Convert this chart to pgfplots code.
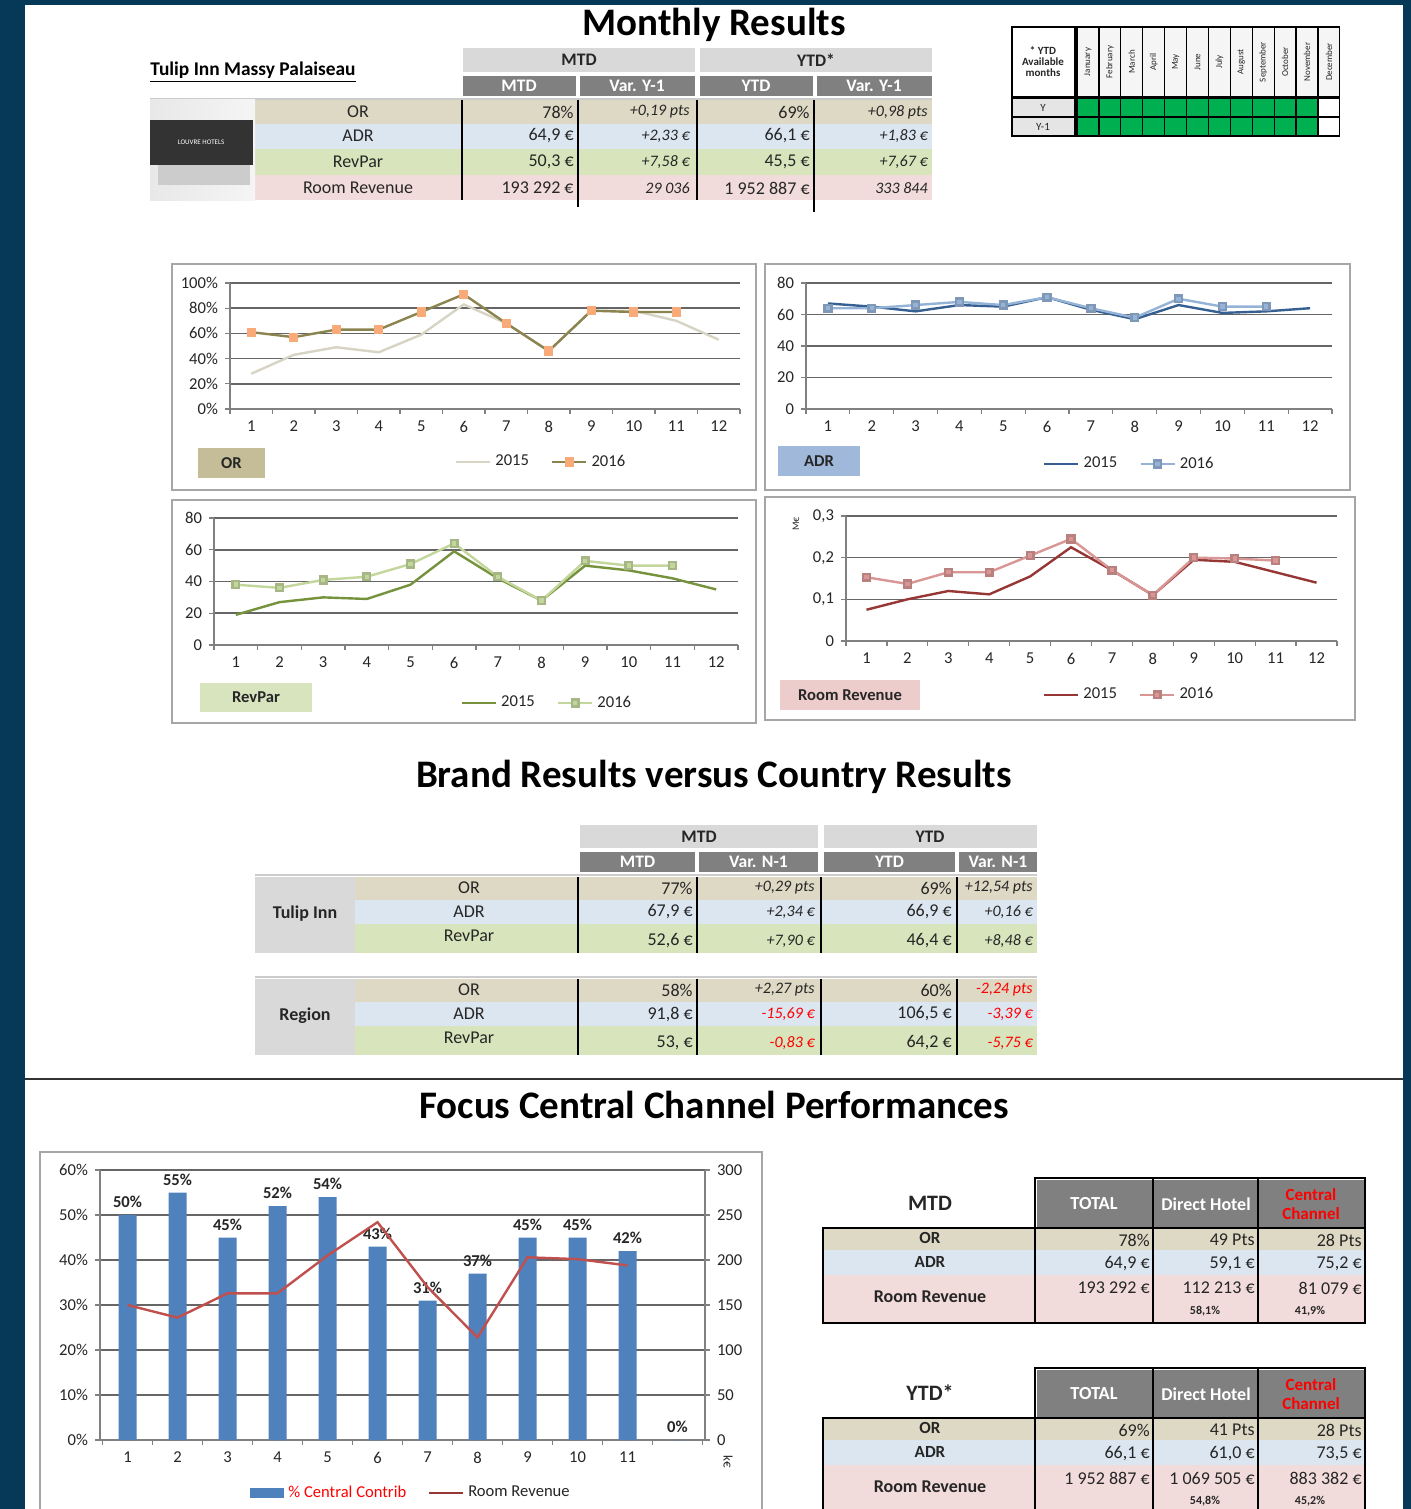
\documentclass[border=0pt]{standalone}
\usepackage{fontspec}
\setmainfont{Carlito}
\usepackage{pgfplots}
\pgfplotsset{compat=1.18}
\newcommand{\fs}[1]{\fontsize{#1}{#1}\selectfont}
\definecolor{navy}{RGB}{5,57,87}
\definecolor{hdrlight}{RGB}{217,217,217}
\definecolor{hdrdark}{RGB}{128,128,128}
\definecolor{rowOR}{RGB}{221,217,196}
\definecolor{rowADR}{RGB}{220,230,241}
\definecolor{rowRP}{RGB}{216,228,188}
\definecolor{rowRR}{RGB}{242,220,219}
\definecolor{lblOR}{RGB}{196,189,151}
\definecolor{lblADR}{RGB}{160,185,218}
\definecolor{lblRP}{RGB}{215,228,189}
\definecolor{lblRR}{RGB}{236,205,204}
\definecolor{cellgreen}{RGB}{0,176,80}
\definecolor{barblue}{RGB}{79,129,189}
\definecolor{redline}{RGB}{192,80,77}
\definecolor{orA}{RGB}{216,212,195}
\definecolor{orB}{RGB}{140,132,80}
\definecolor{orM}{RGB}{248,170,120}
\definecolor{adrA}{RGB}{55,96,146}
\definecolor{adrB}{RGB}{149,179,215}
\definecolor{rpA}{RGB}{118,146,60}
\definecolor{rpB}{RGB}{195,214,155}
\definecolor{rrA}{RGB}{150,55,53}
\definecolor{rrB}{RGB}{217,150,148}
\definecolor{txt}{RGB}{38,38,38}
% value rows
\newcommand{\vr}[3]{\node[font=\fs{9}, text=txt, anchor=east, inner sep=0pt] at (#1,#2) {#3};}
\newcommand{\vi}[4][txt]{\node[font=\itshape\fs{8}, text=#1, anchor=east, inner sep=0pt] at (#2,#3) {#4};}
\newcommand{\toprow}[5]{\vr{574}{#1}{#2}\vi{690}{#1}{#3}\vr{810}{#1}{#4}\vi{928}{#1}{#5}}
\newcommand{\brandrow}[5]{\vr{693}{#1}{#2}\vi{815}{#1}{#3}\vr{952}{#1}{#4}\vi{1033}{#1}{#5}}
\newcommand{\chrow}[4]{\vr{1150}{#1}{#2}\vr{1255}{#1}{#3}\vr{1362}{#1}{#4}}
\pgfplotsset{
 mini/.style={
  scale only axis, anchor=south west,
  xmin=0.5, xmax=12.5,
  xtick={1,...,12},
  minor xtick={0.5,1.5,...,12.5},
  axis x line*=bottom, axis y line*=left,
  axis line style={-, draw=gray, line width=0.8pt},
  major x tick style={draw=none},
  minor x tick style={draw=gray, line width=0.6pt},
  ytick style={draw=gray, line width=0.6pt},
  tick align=outside,
  major tick length=2.5pt, minor tick length=2.5pt,
  ymajorgrids, grid style={black!60, line width=0.8pt},
  tick label style={font=\fs{8.3}, text=txt},
  /pgf/number format/assume math mode=true,
  /pgf/number format/use comma,
  legend columns=2,
  legend style={draw=none, fill=none, font=\fs{8.3}, text=txt, anchor=west, inner sep=0pt,
   /tikz/every even column/.append style={column sep=9pt}},
  legend cell align=left,
  clip=false,
 },
 s15/.style={line width=1.2pt, mark=none},
 s16/.style={line width=1.2pt, mark=square*, mark size=1.7pt},
}
\begin{document}
\begin{tikzpicture}[x=0.5pt,y=-0.5pt]
\useasboundingbox (0,0) rectangle (1411,1509);
\fill[navy] (0,0) rectangle (1411,1509);
\fill[white] (25,5) rectangle (1403,1509);

% ---------- titles
\node[font=\bfseries\fs{19.5}, text=black] at (714,25) {Monthly Results};
\node[font=\bfseries\fs{19.5}, text=black] at (714,777) {Brand Results versus Country Results};
\node[font=\bfseries\fs{19.5}, text=black] at (714,1105) {Focus Central Channel Performances};
\draw[black!80, line width=1pt] (25,1079) -- (1403,1079);

% ---------- top table
\node[font=\bfseries\fs{9.7}, anchor=west, text=black, inner sep=0pt] at (150,72) {\underline{Tulip Inn Massy Palaiseau}};
\fill[hdrlight] (463,48) rectangle (695,72);
\fill[hdrlight] (700,48) rectangle (932,72);
\node[font=\bfseries\fs{8.8}, text=txt] at (579,60) {MTD};
\node[font=\bfseries\fs{8.8}, text=txt] at (816,60) {YTD*};
\fill[hdrdark] (463,76) rectangle (576,96);
\fill[hdrdark] (580,76) rectangle (695,96);
\fill[hdrdark] (700,76) rectangle (813,96);
\fill[hdrdark] (817,76) rectangle (932,96);
\node[font=\bfseries\fs{8.8}, text=white] at (519,86) {MTD};
\node[font=\bfseries\fs{8.8}, text=white] at (637,86) {Var. Y-1};
\node[font=\bfseries\fs{8.8}, text=white] at (756,86) {YTD};
\node[font=\bfseries\fs{8.8}, text=white] at (874,86) {Var. Y-1};
\draw[gray!40, line width=1pt] (150,99) -- (932,99);
\fill[rowOR] (150,100) rectangle (932,124);
\fill[rowADR] (150,124) rectangle (932,149);
\fill[rowRP] (150,149) rectangle (932,175);
\fill[rowRR] (150,175) rectangle (932,200);
\shade[left color=gray!18, right color=gray!8] (150,100) rectangle (255,200);
\fill[gray!40] (158,163) rectangle (250,185);
\fill[black!80] (150,120) rectangle (253,165);
\node[font=\fs{3.5}, text=white] at (201,142) {LOUVRE HOTELS};
\node[font=\fs{9}, text=txt] at (358,112) {OR};
\node[font=\fs{9}, text=txt] at (358,136) {ADR};
\node[font=\fs{9}, text=txt] at (358,162) {RevPar};
\node[font=\fs{9}, text=txt] at (358,188) {Room Revenue};
\toprow{112}{78\%}{+0,19 pts}{69\%}{+0,98 pts}
\toprow{136}{64,9 €}{+2,33 €}{66,1 €}{+1,83 €}
\toprow{162}{50,3 €}{+7,58 €}{45,5 €}{+7,67 €}
\toprow{188}{193 292 €}{29 036}{1 952 887 €}{333 844}
\draw[black, line width=1.2pt] (462,100) -- (462,200);
\draw[black, line width=1.2pt] (578,100) -- (578,207);
\draw[black, line width=1.2pt] (697,100) -- (697,200);
\draw[black, line width=1.2pt] (814,100) -- (814,212);

% ---------- availability table
\draw[black, line width=0.6pt] (1012,27) rectangle (1075,97);
\node[font=\bfseries\fs{5.5}, align=center, text=txt] at (1043,62) {* YTD\\Available\\months};
\fill[gray!20] (1012,98) rectangle (1075,136);
\draw[black, line width=0.6pt] (1012,98) rectangle (1075,117);
\draw[black, line width=0.6pt] (1012,117) rectangle (1075,136);
\node[font=\fs{5.5}, text=txt] at (1043,107.5) {Y};
\node[font=\fs{5.5}, text=txt] at (1043,126.5) {Y-1};
\foreach \i/\m in {0/January,1/February,2/March,3/April,4/May,5/June,6/July,7/August,8/September,9/October,10/November,11/December}{
  \pgfmathsetmacro\cx{1077+21.9*\i}
  \fill[gray!8] (\cx,27) rectangle ++(21.9,70);
  \draw[black, line width=0.6pt] (\cx,27) rectangle ++(21.9,70);
  \node[rotate=90, font=\fs{4.5}, text=txt] at (\cx+11,62) {\m};
  \ifnum\i<11
    \fill[cellgreen] (\cx,98) rectangle ++(21.9,19);
    \fill[cellgreen] (\cx,117) rectangle ++(21.9,19);
  \fi
  \draw[black, line width=0.6pt] (\cx,98) rectangle ++(21.9,19);
  \draw[black, line width=0.6pt] (\cx,117) rectangle ++(21.9,19);
}

% ---------- chart frames
\draw[gray!70, line width=1pt] (172,264) rectangle (756,490);
\draw[gray!70, line width=1pt] (765,264) rectangle (1350,490);
\draw[gray!70, line width=1pt] (172,500) rectangle (756,723);
\draw[gray!70, line width=1pt] (765,497) rectangle (1355,720);
\fill[lblOR] (198,448) rectangle (265,478);
\node[font=\bfseries\fs{8.3}, text=txt] at (231.5,463) {OR};
\fill[lblADR] (778,446) rectangle (860,476);
\node[font=\bfseries\fs{8.3}, text=txt] at (819,461) {ADR};
\fill[lblRP] (200,683) rectangle (312,712);
\node[font=\bfseries\fs{8.3}, text=txt] at (256,697.5) {RevPar};
\fill[lblRR] (780,680) rectangle (920,710);
\node[font=\bfseries\fs{8.3}, text=txt] at (850,695) {Room Revenue};
\node[rotate=90, font=\fs{5}, text=txt] at (796,524) {M€};

% ---------- brand table
\fill[hdrlight] (580,825) rectangle (818,848);
\fill[hdrlight] (824,825) rectangle (1037,848);
\node[font=\bfseries\fs{8.8}, text=txt] at (699,836.5) {MTD};
\node[font=\bfseries\fs{8.8}, text=txt] at (930,836.5) {YTD};
\fill[hdrdark] (580,852) rectangle (695,872);
\fill[hdrdark] (699,852) rectangle (818,872);
\fill[hdrdark] (824,852) rectangle (955,872);
\fill[hdrdark] (959,852) rectangle (1037,872);
\node[font=\bfseries\fs{8.8}, text=white] at (637.5,862) {MTD};
\node[font=\bfseries\fs{8.8}, text=white] at (758.5,862) {Var. N-1};
\node[font=\bfseries\fs{8.8}, text=white] at (889.5,862) {YTD};
\node[font=\bfseries\fs{8.8}, text=white] at (998,862) {Var. N-1};
\foreach \o/\g in {0/Tulip Inn, 102/Region}{
  \begin{scope}[yshift=-\o*0.5pt]
  \draw[gray!40, line width=1pt] (255,875) -- (1037,875);
  \fill[rowOR] (355,877) rectangle (1037,900);
  \fill[rowADR] (355,900) rectangle (1037,924);
  \fill[rowRP] (355,924) rectangle (1037,953);
  \fill[hdrlight] (255,877) rectangle (355,953);
  \node[font=\bfseries\fs{9}, text=txt] at (305,914) {\g};
  \node[font=\fs{9}, text=txt] at (469,888) {OR};
  \node[font=\fs{9}, text=txt] at (469,912) {ADR};
  \node[font=\fs{9}, text=txt] at (469,936) {RevPar};
  \foreach \x in {578,697,821,957} \draw[black, line width=1.2pt] (\x,877) -- (\x,953);
  \end{scope}
}
\brandrow{888}{77\%}{+0,29 pts}{69\%}{+12,54 pts}
\brandrow{912}{67,9 €}{+2,34 €}{66,9 €}{+0,16 €}
\brandrow{941}{52,6 €}{+7,90 €}{46,4 €}{+8,48 €}
\vr{693}{990}{58\%}\vi{815}{990}{+2,27 pts}\vr{952}{990}{60\%}\vi[red]{1033}{990}{-2,24 pts}
\vr{693}{1014}{91,8 €}\vi[red]{815}{1014}{-15,69 €}\vr{952}{1014}{106,5 €}\vi[red]{1033}{1014}{-3,39 €}
\vr{693}{1043}{53, €}\vi[red]{815}{1043}{-0,83 €}\vr{952}{1043}{64,2 €}\vi[red]{1033}{1043}{-5,75 €}

% ---------- bottom chart frame
\draw[gray!70, line width=1pt] (40,1152) rectangle (762,1520);
\node[rotate=-90, font=\fs{6.5}, text=txt] at (728,1462) {k€};

% ---------- bottom right tables
\foreach \o/\t in {0/MTD, 190/YTD*}{
  \begin{scope}[yshift=-\o*0.5pt]
  \node[font=\bfseries\fs{11}, text=txt] at (930,1203) {\t};
  \fill[hdrdark] (1037,1180) rectangle (1365,1228);
  \draw[black, line width=1pt] (1035,1178) rectangle (1365,1228);
  \node[font=\bfseries\fs{9.2}, text=white] at (1094,1204) {TOTAL};
  \node[font=\bfseries\fs{9}, text=white] at (1206,1204) {Direct Hotel};
  \node[font=\bfseries\fs{8.5}, text=red, align=center] at (1311,1204) {Central\\[1pt]Channel};
  \fill[rowOR] (823,1228) rectangle (1365,1250);
  \fill[rowADR] (823,1250) rectangle (1365,1275);
  \fill[rowRR] (823,1275) rectangle (1365,1323);
  \draw[black, line width=1.2pt] (823,1228) rectangle (1365,1323);
  \foreach \x in {1035,1153,1258} \draw[black, line width=1pt] (\x,1178) -- (\x,1323);
  \node[font=\bfseries\fs{8.5}, text=txt] at (930,1238) {OR};
  \node[font=\bfseries\fs{8.5}, text=txt] at (930,1262) {ADR};
  \node[font=\bfseries\fs{9}, text=txt] at (930,1297) {Room Revenue};
  \end{scope}
}
\chrow{1240}{78\%}{49 Pts}{28 Pts}
\chrow{1264}{64,9 €}{59,1 €}{75,2 €}
\chrow{1288}{193 292 €}{112 213 €}{81 079 €}
\node[font=\bfseries\fs{6}, text=txt] at (1205,1311) {58,1\%};
\node[font=\bfseries\fs{6}, text=txt] at (1310,1311) {41,9\%};
\chrow{1430}{69\%}{41 Pts}{28 Pts}
\chrow{1454}{66,1 €}{61,0 €}{73,5 €}
\chrow{1478}{1 952 887 €}{1 069 505 €}{883 382 €}
\node[font=\bfseries\fs{6}, text=txt] at (1205,1501) {54,8\%};
\node[font=\bfseries\fs{6}, text=txt] at (1310,1501) {45,2\%};

% ---------- OR chart
\begin{axis}[mini, at={(115pt,-204.5pt)}, width=255pt, height=63pt,
  ymin=0, ymax=100, ytick={0,20,...,100}, yticklabel={\pgfmathprintnumber{\tick}\%},
  legend style={at={(0.44,-0.42)}}]
\addplot[s15, color=orA] coordinates {(1,28)(2,43)(3,49)(4,45)(5,59)(6,83)(7,68)(8,46)(9,78)(10,78)(11,70)(12,55)};
\addlegendentry{2015}
\addplot[s16, color=orB, mark options={draw=orM, fill=orM}] coordinates {(1,61)(2,57)(3,63)(4,63)(5,77)(6,91)(7,68)(8,46)(9,78)(10,77)(11,77)};
\addlegendentry{2016}
\end{axis}

% ---------- ADR chart
\begin{axis}[mini, at={(403pt,-204.5pt)}, width=263pt, height=63pt,
  ymin=0, ymax=80, ytick={0,20,...,80},
  legend style={at={(0.45,-0.437)}}]
\addplot[s15, color=adrA] coordinates {(1,67)(2,65)(3,62)(4,66)(5,65)(6,71)(7,63)(8,57)(9,66)(10,61)(11,62)(12,64)};
\addlegendentry{2015}
\addplot[s16, color=adrB, mark options={draw=adrB!85!black, fill=adrB}] coordinates {(1,64)(2,64)(3,66)(4,68)(5,66)(6,71)(7,64)(8,58)(9,70)(10,65)(11,65)};
\addlegendentry{2016}
\end{axis}

% ---------- RevPar chart
\begin{axis}[mini, at={(107pt,-322.5pt)}, width=262pt, height=63.5pt,
  ymin=0, ymax=80, ytick={0,20,...,80},
  legend style={at={(0.47,-0.457)}}]
\addplot[s15, color=rpA] coordinates {(1,19)(2,27)(3,30)(4,29)(5,38)(6,59)(7,42)(8,28)(9,50)(10,47)(11,42)(12,35)};
\addlegendentry{2015}
\addplot[s16, color=rpB, mark options={draw=rpB!85!black, fill=rpB}] coordinates {(1,38)(2,36)(3,41)(4,43)(5,51)(6,64)(7,43)(8,28)(9,53)(10,50)(11,50)};
\addlegendentry{2016}
\end{axis}

% ---------- Room revenue chart
\begin{axis}[mini, at={(423pt,-320.5pt)}, width=245.5pt, height=62.5pt,
  ymin=0, ymax=0.3, ytick={0,0.1,0.2,0.3},
  yticklabel style={/pgf/number format/fixed},
  legend style={at={(0.40,-0.43)}}]
\addplot[s15, color=rrA] coordinates {(1,0.075)(2,0.100)(3,0.120)(4,0.112)(5,0.155)(6,0.225)(7,0.170)(8,0.110)(9,0.195)(10,0.190)(11,0.165)(12,0.140)};
\addlegendentry{2015}
\addplot[s16, color=rrB, mark options={draw=rrB!85!black, fill=rrB}] coordinates {(1,0.153)(2,0.137)(3,0.165)(4,0.165)(5,0.205)(6,0.245)(7,0.170)(8,0.110)(9,0.200)(10,0.198)(11,0.193)};
\addlegendentry{2016}
\end{axis}

% ---------- bar chart (left axis)
\begin{axis}[mini, at={(50pt,-720pt)}, width=302.5pt, height=135pt,
  xmin=0.45, xmax=12.55, xtick={1,...,11},
  ymin=0, ymax=60, ytick={0,10,...,60}, yticklabel={\pgfmathprintnumber{\tick}\%},
  ybar, bar width=9pt,
  nodes near coords={\pgfmathprintnumber{\pgfplotspointmeta}\%},
  nodes near coords style={font=\bfseries\fs{8.3}, text=txt},
  legend style={at={(0.248,-0.196)}}]
\addplot[fill=barblue, draw=none, legend image code/.code={\fill[barblue] (0pt,-2.5pt) rectangle (17pt,2.5pt);}] coordinates {(1,50)(2,55)(3,45)(4,52)(5,54)(6,43)(7,31)(8,37)(9,45)(10,45)(11,42)(12,0)};
\addlegendentry{\textcolor{red}{\% Central Contrib}}
\addlegendimage{legend image code/.code={\draw[rrA, line width=1pt, solid] (0pt,0pt) -- (17pt,0pt);}}
\addlegendentry{Room Revenue}
\end{axis}

% ---------- bar chart (right axis)
\begin{axis}[scale only axis, anchor=south west, at={(50pt,-720pt)}, width=302.5pt, height=135pt,
  xmin=0.45, xmax=12.55, ymin=0, ymax=300, ytick={0,50,...,300},
  axis x line=none, axis y line*=right,
  axis line style={-, draw=gray, line width=0.8pt},
  ytick style={draw=gray, line width=0.6pt}, tick align=outside, major tick length=2.5pt,
  tick label style={font=\fs{8.3}, text=txt},
  /pgf/number format/assume math mode=true, clip=false]
\addplot[color=redline, line width=1.2pt, mark=none] coordinates {(1,150)(2,136)(3,163)(4,163)(5,205)(6,242)(7,170)(8,114)(9,203)(10,201)(11,194)};
\end{axis}
\end{tikzpicture}
\end{document}
